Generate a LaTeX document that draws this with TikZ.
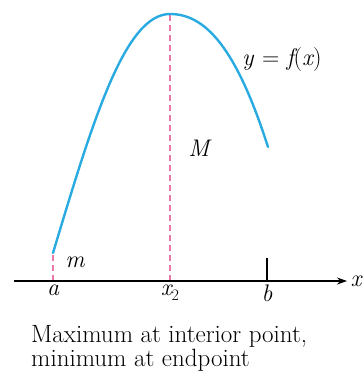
\documentclass[tikz,border=0pt]{standalone}
\usepackage{fontspec}
\usetikzlibrary{
    arrows.meta,
    positioning
}
\definecolor{CurveBlue}{RGB}{41,171,226}
\definecolor{GuidePink}{RGB}{236,120,170}
\newcommand{\lsub}[1]{\raisebox{-0.5ex}{\upshape\fontsize{16}{16}\selectfont #1}}
\tikzset{
  curve/.style   = {CurveBlue, line width=2.4pt, line cap=round},
  guide/.style   = {GuidePink, line width=1.2pt, dash pattern=on 6pt off 4pt},
  axis/.style    = {-{Stealth[length=10pt,width=7pt]}, line width=1.3pt},
  lbl/.style     = {font=\fontsize{24}{28}\selectfont\itshape, inner sep=1pt},
  caption/.style = {font=\fontsize{25}{24}\selectfont, align=left, inner sep=0pt}
}

\begin{document}
\begin{tikzpicture}[x=1pt,y=-1pt]
\useasboundingbox (0,0) rectangle (363,379);
\coordinate (O)     at (14,281);
\coordinate (E)     at (347,281);
\coordinate (A)     at (53,281);
\coordinate (X2)    at (170,281);
\coordinate (B)     at (267,281);
\coordinate (Btop)  at (267,258);
\coordinate (Start) at (53,253);
\coordinate (Top)   at (170,14);
\coordinate (End)   at (268,147);
% dashed guides
\draw[guide] (A)  -- (Start);
\draw[guide] (X2) -- (Top);
% axis and tick
\draw[axis] (O) -- (E) node[right=2pt,lbl] (xl) {x};
\draw[line width=1.3pt] (B) -- (Btop);
% curve
\draw[curve] (Start) .. controls (93,120) and (125,14) .. (Top)
                     .. controls (205,14) and (236,47) .. (End);
% labels
\node[lbl,below=3pt of A,anchor=north]  (al)  {a};
\node[lbl,below=3pt of X2,anchor=north] (x2l) {x\lsub{2}};
\node[lbl,below=3pt of B,anchor=north]  (bl)  {b};
\node[lbl] (ml) at (75,262) {m};
\node[lbl] (Ml) at (199,148) {M};
\node[lbl,anchor=west] (fl) at (241,60)
    {y \upshape= \itshape f\upshape(\itshape x\upshape)};
\node[caption,anchor=base west] (cap) at (31,366)
    {Maximum at interior point,\\minimum at endpoint};
\end{tikzpicture}
\end{document}
